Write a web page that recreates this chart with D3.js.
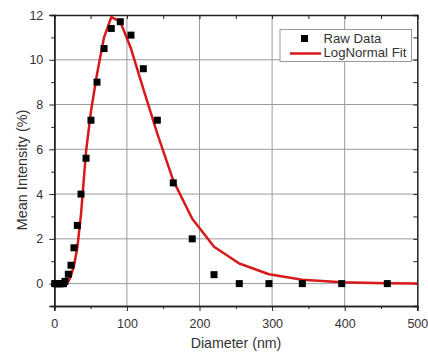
<!DOCTYPE html>
<html>
<head>
<meta charset="utf-8">
<script src="https://cdn.jsdelivr.net/npm/d3@7"></script>
<style>
  html, body { margin: 0; padding: 0; background: #fff; }
  svg { display: block; font-family: "Liberation Sans", Arial, sans-serif; }
</style>
</head>
<body>
<svg id="chart" width="428" height="354"></svg>
<script>
// Measured size distribution (diameter in nm, intensity in %)
const rawDiameter = [0.5, 2, 3.5, 5, 6.5, 8, 9.5, 11, 12.7, 14.7, 19.3, 23, 27.1, 31.7, 36.8, 43.7, 50.5, 58.8, 68.5, 78.5, 90.9, 105.6, 122.6, 141.9, 163.9, 190, 220, 254.8, 295.7, 341.6, 395.9, 458.7];
const rawIntensity = [0, 0, 0, 0, 0, 0, 0, 0, 0, 0.1, 0.42, 0.82, 1.6, 2.6, 4.0, 5.6, 7.3, 9.0, 10.5, 11.4, 11.7, 11.1, 9.6, 7.3, 4.5, 2.0, 0.4, 0.0, 0.0, 0.0, 0.0, 0.0];

// Log-normal fit evaluated at the plotted diameters
const fitDiameter = [0, 5, 10, 14.7, 19.3, 23, 27.1, 31.7, 36.8, 43.7, 50.5, 58.8, 68.5, 78.5, 90.9, 105.6, 122.6, 141.9, 163.9, 190, 220, 254.8, 295.7, 341.6, 395.9, 458.7, 500];
const fitIntensity = [0, 0, 0, 0.02, 0.1, 0.35, 0.8, 1.6, 3.1, 5.9, 7.7, 9.35, 11.0, 11.9, 11.7, 10.5, 8.7, 6.7, 4.6, 2.9, 1.65, 0.9, 0.42, 0.17, 0.06, 0.02, 0.0];

const xTicks = [0, 100, 200, 300, 400, 500];
const yTicks = [0, 2, 4, 6, 8, 10, 12];
const legendLabels = ["Raw Data", "LogNormal Fit"];

const svg = d3.select("#chart");
const plot = { left: 54.3, right: 417.3, top: 15, bottom: 306 };

const x = d3.scaleLinear().domain([0, 500]).range([plot.left, plot.right]);
const y = d3.scaleLinear().domain([-1, 12]).range([plot.bottom, plot.top]);

const red = "#d7191c";
const frame = "#222";
const grid = "#9a9a9a";
const textColor = "#333";

// grid lines
const g = svg.append("g");
g.selectAll("line.gx").data(d3.range(100, 500, 100)).join("line")
  .attr("class", "gx")
  .attr("x1", d => x(d)).attr("x2", d => x(d))
  .attr("y1", plot.top).attr("y2", plot.bottom)
  .attr("stroke", grid).attr("stroke-width", 1);
g.selectAll("line.gy").data(d3.range(0, 12, 2)).join("line")
  .attr("class", "gy")
  .attr("x1", plot.left).attr("x2", plot.right)
  .attr("y1", d => y(d)).attr("y2", d => y(d))
  .attr("stroke", grid).attr("stroke-width", 1);

// bottom axis (outward ticks)
svg.append("g").attr("transform", `translate(0,${plot.bottom})`)
  .call(d3.axisBottom(x).tickValues(xTicks).tickSize(5).tickPadding(8).tickFormat(d3.format("d")));
svg.append("g").attr("transform", `translate(0,${plot.bottom})`)
  .call(d3.axisBottom(x).tickValues(d3.range(50, 500, 100)).tickSize(3).tickFormat(""));

// left axis (outward ticks)
svg.append("g").attr("transform", `translate(${plot.left},0)`)
  .call(d3.axisLeft(y).tickValues(yTicks).tickSize(5).tickPadding(6).tickFormat(d3.format("d")));
svg.append("g").attr("transform", `translate(${plot.left},0)`)
  .call(d3.axisLeft(y).tickValues(d3.range(-1, 12, 2)).tickSize(3).tickFormat(""));

// top axis (inward ticks every 50)
svg.append("g").attr("transform", `translate(0,${plot.top})`)
  .call(d3.axisTop(x).tickValues(d3.range(0, 501, 50)).tickSize(-4).tickFormat(""));
// right axis (inward ticks every 1)
svg.append("g").attr("transform", `translate(${plot.right},0)`)
  .call(d3.axisRight(y).tickValues(d3.range(-1, 13, 1)).tickSize(-4).tickFormat(""));

svg.selectAll(".domain").attr("stroke", frame).attr("stroke-width", 1.5);
svg.selectAll(".tick line").attr("stroke", frame).attr("stroke-width", 1);
svg.selectAll(".tick text").attr("fill", textColor).attr("font-size", 12.5)
  .attr("font-family", "Liberation Sans, Arial, sans-serif");

// fit curve
const line = d3.line().x((d, i) => x(fitDiameter[i])).y(d => y(d));
svg.append("path").datum(fitIntensity)
  .attr("d", line).attr("fill", "none")
  .attr("stroke", red).attr("stroke-width", 2.5).attr("stroke-linejoin", "round");

// raw data squares
const ms = 7;
svg.selectAll("rect.pt").data(rawIntensity).join("rect")
  .attr("class", "pt")
  .attr("x", (d, i) => x(rawDiameter[i]) - ms / 2)
  .attr("y", d => y(d) - ms / 2)
  .attr("width", ms).attr("height", ms)
  .attr("fill", "#000");

// axis titles
svg.append("text").attr("x", 236).attr("y", 348).attr("text-anchor", "middle")
  .attr("font-size", 14.2).attr("fill", textColor).text("Diameter (nm)");
svg.append("text").attr("transform", "translate(27,170) rotate(-90)")
  .attr("text-anchor", "middle").attr("font-size", 14.5).attr("fill", textColor)
  .text("Mean Intensity (%)");

// legend
const lg = svg.append("g");
lg.append("rect").attr("x", 280).attr("y", 29.5).attr("width", 131.5).attr("height", 32)
  .attr("fill", "#fff").attr("stroke", "#999").attr("stroke-width", 1);
lg.append("rect").attr("x", 304.5 - 3.5).attr("y", 38.5 - 3.5).attr("width", 7).attr("height", 7).attr("fill", "#000");
lg.append("line").attr("x1", 290).attr("x2", 321).attr("y1", 53.5).attr("y2", 53.5)
  .attr("stroke", red).attr("stroke-width", 2.5);
lg.selectAll("text.lab").data(legendLabels).join("text")
  .attr("class", "lab")
  .attr("x", 323.5).attr("y", (d, i) => 42.8 + i * 14.6)
  .attr("font-size", 13.2).attr("fill", textColor).text(d => d);
</script>
</body>
</html>
